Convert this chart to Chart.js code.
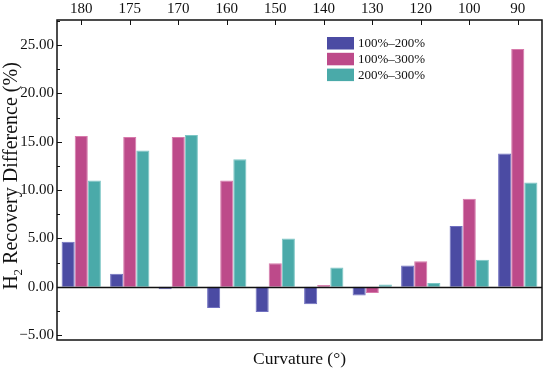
<!DOCTYPE html>
<html>
<head>
<meta charset="utf-8">
<script src="https://cdn.jsdelivr.net/npm/chart.js@4.4.0/dist/chart.umd.min.js"></script>
<style>
  html, body { margin: 0; padding: 0; background: #fff; }
  #wrap { width: 550px; height: 377px; }
</style>
</head>
<body>
<div id="wrap"><canvas id="barChart"></canvas></div>
<script>
var curvature = ['180', '175', '170', '160', '150', '140', '130', '120', '100', '90'];
var seriesNames = ['100%\u2013200%', '100%\u2013300%', '200%\u2013300%'];
var diff100to200 = [4.65, 1.35, -0.25, -2.2, -2.6, -1.8, -0.9, 2.2, 6.3, 13.8];
var diff100to300 = [15.6, 15.5, 15.5, 11.0, 2.45, 0.2, -0.65, 2.65, 9.1, 24.6];
var diff200to300 = [11.0, 14.1, 15.7, 13.2, 5.0, 2.0, 0.25, 0.4, 2.8, 10.8];
var barColors = ['#4b4ba3', '#bd4a8a', '#4aaaa9'];
var edgeColors = ['#7070c0', '#d77aab', '#7cc6c5'];

var serif = "'Liberation Serif', 'Times New Roman', serif";

// frame, inward ticks, zero line, legend and axis titles
var decorations = {
  id: 'decorations',
  afterDraw: function(chart) {
    var ctx = chart.ctx;
    var a = chart.chartArea;
    var x = chart.scales.x, y = chart.scales.y;
    ctx.save();
    ctx.strokeStyle = '#111';
    ctx.lineWidth = 1.5;
    // zero line
    var y0 = Math.round(y.getPixelForValue(0)) + 0.5;
    ctx.beginPath();
    ctx.moveTo(a.left, y0);
    ctx.lineTo(a.right, y0);
    ctx.stroke();
    // frame
    ctx.strokeRect(a.left, a.top, a.right - a.left, a.bottom - a.top);
    // y ticks (inward)
    ctx.lineWidth = 1;
    y.ticks.forEach(function(t) {
      var py = Math.round(y.getPixelForValue(t.value)) + 0.5;
      var len = (Math.abs(t.value % 5) < 1e-6) ? 5 : 3;
      ctx.beginPath();
      ctx.moveTo(a.left, py);
      ctx.lineTo(a.left + len, py);
      ctx.stroke();
    });
    // x ticks (inward from top)
    curvature.forEach(function(c, i) {
      var px = Math.round(x.getPixelForValue(i)) + 0.5;
      ctx.beginPath();
      ctx.moveTo(px, a.top);
      ctx.lineTo(px, a.top + 5);
      ctx.stroke();
    });
    // legend
    ctx.font = '13px ' + serif;
    ctx.textBaseline = 'middle';
    ctx.textAlign = 'left';
    chart.data.datasets.forEach(function(ds, i) {
      var top = 37 + i * 15.8;
      ctx.fillStyle = ds.backgroundColor;
      ctx.fillRect(327, top, 27, 12.5);
      ctx.fillStyle = '#111';
      ctx.fillText(ds.label, 358, top + 6.5);
    });
    // x title
    ctx.font = '17.5px ' + serif;
    ctx.textAlign = 'center';
    ctx.textBaseline = 'alphabetic';
    ctx.fillText('Curvature (\u00b0)', (a.left + a.right) / 2, 364);
    // y title with subscript
    ctx.translate(17, 176);
    ctx.rotate(-Math.PI / 2);
    var big = '20px ' + serif, small = '13px ' + serif;
    var parts = [['H', big, 0], ['2', small, 5], [' Recovery Difference (%)', big, 0]];
    var total = 0;
    parts.forEach(function(p) { ctx.font = p[1]; total += ctx.measureText(p[0]).width; });
    var cx = -total / 2;
    ctx.textAlign = 'left';
    parts.forEach(function(p) {
      ctx.font = p[1];
      ctx.fillText(p[0], cx, p[2]);
      cx += ctx.measureText(p[0]).width;
    });
    ctx.restore();
  }
};

function makeSet(i, values) {
  return {
    label: seriesNames[i],
    data: values,
    backgroundColor: barColors[i],
    borderColor: edgeColors[i],
    borderWidth: 1,
    categoryPercentage: 0.81,
    barPercentage: 1.0
  };
}

new Chart(document.getElementById('barChart'), {
  type: 'bar',
  data: {
    labels: curvature,
    datasets: [
      makeSet(0, diff100to200),
      makeSet(1, diff100to300),
      makeSet(2, diff200to300)
    ]
  },
  options: {
    responsive: true,
    maintainAspectRatio: false,
    animation: false,
    layout: { padding: { left: 0, right: 8, top: 0, bottom: 37 } },
    plugins: {
      legend: { display: false },
      tooltip: { enabled: false }
    },
    scales: {
      x: {
        position: 'top',
        grid: { display: false, drawTicks: false },
        border: { display: false },
        ticks: { color: '#111', font: { family: serif, size: 15 }, padding: 2, maxRotation: 0 },
        afterFit: function(s) { s.height = 20; }
      },
      y: {
        min: -5.5,
        max: 27.6,
        grid: { display: false, drawTicks: false },
        border: { display: false },
        ticks: {
          stepSize: 2.5,
          color: '#111',
          font: { family: serif, size: 15 },
          padding: 3,
          callback: function(v) {
            if (Math.abs(v % 5) > 1e-6) return '';
            return (v < 0 ? '\u2212' : '') + Math.abs(v).toFixed(2);
          }
        },
        afterBuildTicks: function(s) {
          var t = [];
          for (var v = -5; v <= 27.5; v += 2.5) t.push({ value: v });
          s.ticks = t;
        },
        afterFit: function(s) { s.width = 57; }
      }
    }
  },
  plugins: [decorations]
});
</script>
</body>
</html>
